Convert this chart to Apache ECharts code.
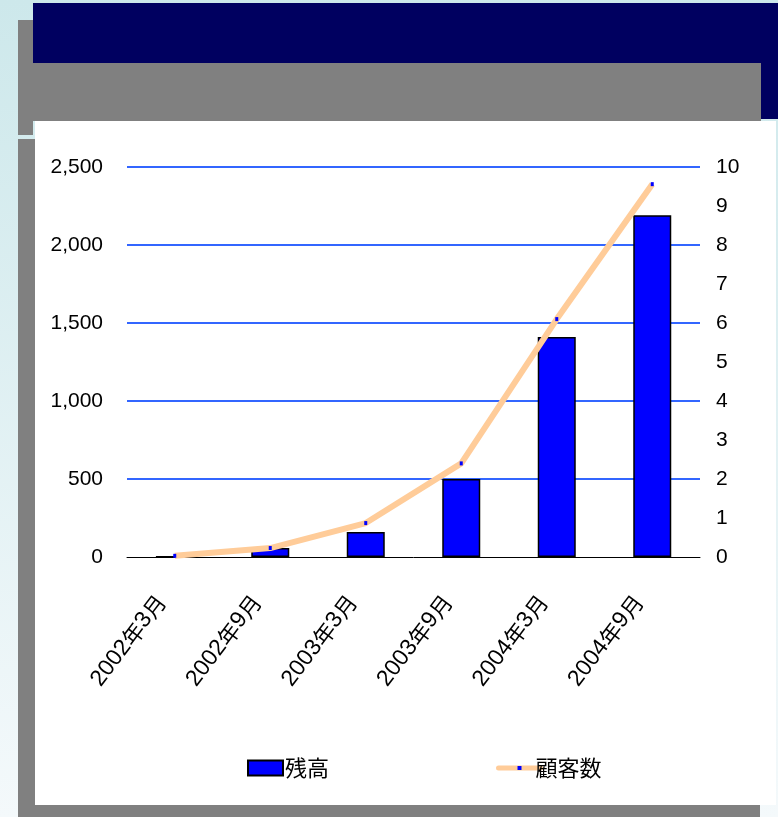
<!DOCTYPE html>
<html><head><meta charset="utf-8">
<script src="https://cdn.jsdelivr.net/npm/echarts@6/dist/echarts.min.js"></script>
<style>
html,body{margin:0;padding:0;}
body{width:778px;height:817px;background:linear-gradient(#cde8eb,#f4f9fb);}
#c{width:778px;height:817px;}
</style></head>
<body><div id="c"></div>
<script>
const categories = ['2002年3月','2002年9月','2003年3月','2003年9月','2004年3月','2004年9月'];
const balance = [2, 58, 160, 500, 1410, 2190];
const customers = [0.03, 0.23, 0.87, 2.4, 6.1, 9.56];
const leftTicks = {min:0, max:2500, interval:500};
const rightTicks = {min:0, max:10, interval:1};

const chart = echarts.init(document.getElementById('c'), null, {renderer:'canvas'});
const LAT = '"Liberation Sans", Arial, "Noto Sans CJK JP", sans-serif';
const CJK = '"Noto Sans CJK JP", sans-serif';
const gridColors = ['rgba(0,0,0,0)','#3366ff','#3366ff','#3366ff','#3366ff','#3366ff'];
chart.setOption({
  backgroundColor: 'transparent',
  textStyle: {fontFamily: LAT},
  graphic: [
    {type:'rect', shape:{x:18,y:20,width:15,height:115}, style:{fill:'#808080'}, z:-10},
    {type:'rect', shape:{x:18,y:139,width:742,height:678}, style:{fill:'#808080'}, z:-10},
    {type:'rect', shape:{x:33,y:3,width:745,height:116}, style:{fill:'#000060'}, z:-9},
    {type:'rect', shape:{x:18,y:63,width:743,height:58}, style:{fill:'#808080'}, z:-8},
    {type:'rect', shape:{x:35,y:121,width:741,height:684}, style:{fill:'#ffffff'}, z:-7}
  ],
  grid: {left:127, right:78, top:167, bottom:260, containLabel:false},
  legend: [
    {left:242, top:752, itemWidth:35, itemHeight:15, icon:'rect', itemGap:2,
     textStyle:{fontSize:22, color:'#000', fontFamily:CJK, padding:[0,0,0,-3]},
     data:[{name:'残高'}]},
    {left:491, top:752, itemWidth:42, itemHeight:5, itemGap:2,
     lineStyle:{width:5, cap:'round', color:'#ffcc99'},
     textStyle:{fontSize:22, color:'#000', fontFamily:CJK, padding:[0,0,0,-10]},
     data:[{name:'顧客数'}]}
  ],
  xAxis: {
    type:'category', data:categories,
    axisLine:{show:true, lineStyle:{color:'#000', width:1}},
    axisTick:{show:false},
    axisLabel:{rotate:53, color:'#000', margin:41, interval:0,
      verticalAlign:'bottom', padding:[0,8,0,0],
      formatter: v => v.replace(/(\d+)年(\d+)月/, '{d|$1}{c|年}{d|$2}{c|月}'),
      rich:{
        d:{fontSize:23, fontFamily:LAT, color:'#000'},
        c:{fontSize:22, fontFamily:CJK, color:'#000'}
      }}
  },
  yAxis: [
    {type:'value', min:leftTicks.min, max:leftTicks.max, interval:leftTicks.interval,
     axisLine:{show:false}, axisTick:{show:false},
     axisLabel:{fontSize:21, color:'#000', margin:24, formatter:v=>v.toLocaleString('en-US'), fontFamily:LAT},
     splitLine:{show:true, lineStyle:{color:gridColors, width:2}}},
    {type:'value', min:rightTicks.min, max:rightTicks.max, interval:rightTicks.interval,
     axisLine:{show:false}, axisTick:{show:false},
     axisLabel:{fontSize:21, color:'#000', margin:16, fontFamily:LAT},
     splitLine:{show:false}}
  ],
  series: [
    {name:'残高', type:'bar', data:balance, barWidth:38, yAxisIndex:0,
     itemStyle:{color:'#0000ff', borderColor:'#000', borderWidth:1.5}},
    {name:'顧客数', type:'line', data:customers, yAxisIndex:1,
     symbol:'rect', symbolSize:[3,4], showSymbol:true,
     itemStyle:{color:'#0000ff'},
     lineStyle:{color:'#ffcc99', width:6}, z:5}
  ]
});
</script></body></html>
